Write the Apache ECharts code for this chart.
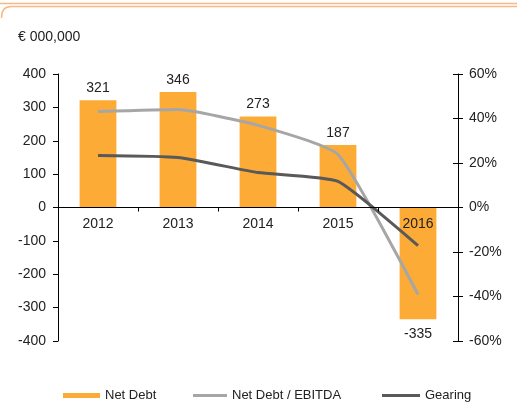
<!DOCTYPE html>
<html><head><meta charset="utf-8">
<script src="https://cdn.jsdelivr.net/npm/echarts@6/dist/echarts.min.js"></script>
<style>html,body{margin:0;padding:0;background:#fff}#c{width:517px;height:403px}</style>
</head><body><div id="c"></div>
<script>
const categories = ['2012','2013','2014','2015','2016'];
const netDebt = [321, 346, 273, 187, -335];
const netDebtEbitda = [0.431, 0.440, 0.369, 0.238, -0.391];
const gearing = [0.234, 0.225, 0.157, 0.117, -0.171];
const leftTicks = {min: -400, max: 400, interval: 100};
const rightTicks = {min: -0.6, max: 0.6, interval: 0.2};

const font = 'Liberation Sans, Arial, sans-serif';
const txt = '#222';
const fs = 14;
const frame = '#F8B886';
const gridTop = 74, gridBottom = 62, H = 403;
const zeroOffset = -(H - gridTop - gridBottom) / 2;
const chart = echarts.init(document.getElementById('c'), null, {renderer: 'canvas'});
chart.setOption({
  animation: false,
  textStyle: {fontFamily: font},
  graphic: [
    {type: 'line', shape: {x1: 0, y1: 3.5, x2: 517, y2: 3.5}, style: {stroke: frame, lineWidth: 1.5}},
    {type: 'bezierCurve', shape: {x1: 1.5, y1: 18, x2: 11, y2: 6.5, cpx1: 1.5, cpy1: 6.5}, style: {fill: 'none', stroke: frame, lineWidth: 1.5}},
    {type: 'line', shape: {x1: 11, y1: 6.5, x2: 517, y2: 6.5}, style: {stroke: frame, lineWidth: 1.5}},
    {type: 'text', left: 18, top: 30, style: {text: '€ 000,000', font: '14px ' + font, fill: txt}}
  ],
  grid: {left: 58, right: 59, top: gridTop, bottom: gridBottom},
  legend: [
    {left: 63, top: 389, padding: 0, itemWidth: 37, itemHeight: 5, data: [{name: 'Net Debt', icon: 'rect'}],
     textStyle: {fontSize: 13, color: txt, fontFamily: font}},
    {left: 193, top: 389, padding: 0, itemWidth: 34, itemHeight: 3, data: [{name: 'Net Debt / EBITDA', icon: 'rect'}],
     textStyle: {fontSize: 13, color: txt, fontFamily: font}},
    {left: 382, top: 389, padding: 0, itemWidth: 38, itemHeight: 3, data: [{name: 'Gearing', icon: 'rect'}],
     textStyle: {fontSize: 13, color: txt, fontFamily: font}}
  ],
  xAxis: {
    type: 'category', data: categories, position: 'bottom', offset: zeroOffset,
    axisLine: {onZero: false, lineStyle: {color: '#000', width: 1}},
    axisTick: {show: true, inside: false, length: 4, alignWithLabel: false, lineStyle: {color: '#000'}},
    axisLabel: {color: txt, fontSize: fs, margin: 10, fontFamily: font},
    z: 5
  },
  yAxis: [
    {type: 'value', position: 'left', min: leftTicks.min, max: leftTicks.max, interval: leftTicks.interval,
     axisLine: {show: true, onZero: false, lineStyle: {color: '#000'}},
     axisTick: {show: true, length: 5, lineStyle: {color: '#000'}},
     axisLabel: {color: txt, fontSize: fs, margin: 12, fontFamily: font},
     splitLine: {show: false}},
    {type: 'value', position: 'right', min: rightTicks.min, max: rightTicks.max, interval: rightTicks.interval,
     axisLine: {show: true, onZero: false, lineStyle: {color: '#000'}},
     axisTick: {show: true, length: 5, lineStyle: {color: '#000'}},
     axisLabel: {color: txt, fontSize: fs, margin: 11, fontFamily: font,
       formatter: v => Math.round(v * 100) + '%'},
     splitLine: {show: false}},
    {type: 'value', position: 'right', min: rightTicks.min, max: rightTicks.max, interval: rightTicks.interval,
     axisLine: {show: false, onZero: false},
     axisTick: {show: true, inside: true, length: 5, lineStyle: {color: '#000'}},
     axisLabel: {show: false}, splitLine: {show: false}}
  ],
  series: [
    {name: 'Net Debt', type: 'bar', yAxisIndex: 0, barWidth: '46%',
     itemStyle: {color: '#FDAB37'},
     label: {show: true, position: 'top', distance: 5, color: txt, fontSize: fs, fontFamily: font},
     data: netDebt.map(v => v < 0 ? {value: v, label: {position: 'bottom', distance: 8}} : v)},
    {name: 'Net Debt / EBITDA', type: 'line', yAxisIndex: 1, symbol: 'none', smooth: 0.15,
     lineStyle: {color: '#A6A6A6', width: 3}, itemStyle: {color: '#A6A6A6'}, z: 3,
     data: netDebtEbitda},
    {name: 'Gearing', type: 'line', yAxisIndex: 1, symbol: 'none', smooth: 0.15,
     lineStyle: {color: '#595959', width: 3}, itemStyle: {color: '#595959'}, z: 3,
     data: gearing}
  ]
});
</script></body></html>
